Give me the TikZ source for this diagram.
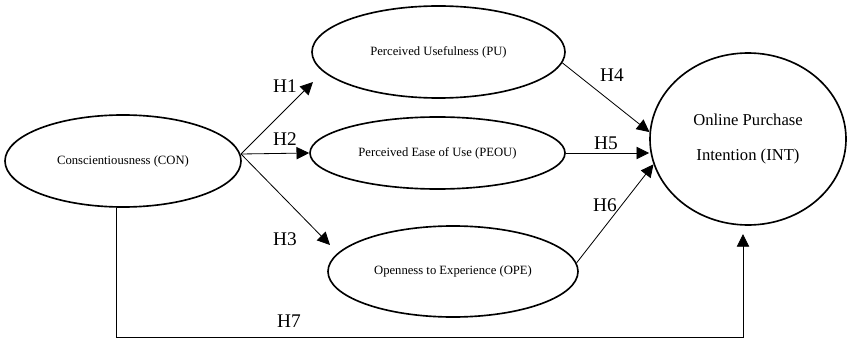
\documentclass[tikz,border=0pt]{standalone}
\usepackage{fontspec}
\setmainfont{Liberation Serif}
\usetikzlibrary{shapes.geometric,arrows.meta}

\begin{document}
\begin{tikzpicture}[x=0.3mm,y=-0.3mm,>={Triangle[length=3.8mm,width=3.7mm]},
  construct/.style={draw,ellipse,line width=1.4pt,inner sep=0pt,font=\fontsize{10.8}{13}\selectfont},
  link/.style={->,line width=0.7pt},
  hyp/.style={font=\fontsize{16.5}{18}\selectfont}]
  \useasboundingbox (0,0) rectangle (847,338);
  \node[construct,minimum width=70.8mm,minimum height=27.6mm] (CON) at (123,161) {Conscientiousness (CON)};
  \node[construct,minimum width=75.9mm,minimum height=27.6mm] (PU) at (438.5,52) {Perceived Usefulness (PU)};
  \node[construct,minimum width=76.5mm,minimum height=21.6mm] (PEOU) at (437.5,153) {Perceived Ease of Use (PEOU)};
  \node[construct,minimum width=75mm,minimum height=27.3mm] (OPE) at (453,271.5) {Openness to Experience (OPE)};
  \node[construct,minimum width=58.8mm,minimum height=51.6mm,align=center,
        font=\fontsize{14.2}{30}\selectfont] (INT) at (748,139) {Online Purchase\\Intention (INT)};
  \coordinate (fork) at (241,154);
  \coordinate (tipPU) at (313,82);
  \coordinate (tipOPE) at (330,245);
  \coordinate (tipINT) at (743,234);
  \draw[link] (fork) -- (tipPU);
  \draw[link] (fork) -- (PEOU.west);
  \draw[link] (fork) -- (tipOPE);
  \draw[link] (PU.-5) -- (INT.176);
  \draw[link] (PEOU.east) -- (PEOU.east -| INT.west);
  \draw[link] (OPE.4) -- (INT.195);
  \draw[link] (CON.262) -- ++(0,130) -| (tipINT);
  \node[hyp] (h1) at (285,86) {H1};
  \node[hyp] (h2) at (285,139) {H2};
  \node[hyp] (h3) at (285,239) {H3};
  \node[hyp] (h4) at (612,75) {H4};
  \node[hyp] (h5) at (606,143) {H5};
  \node[hyp] (h6) at (605,205) {H6};
  \node[hyp] (h7) at (289,321) {H7};
\end{tikzpicture}
\end{document}
